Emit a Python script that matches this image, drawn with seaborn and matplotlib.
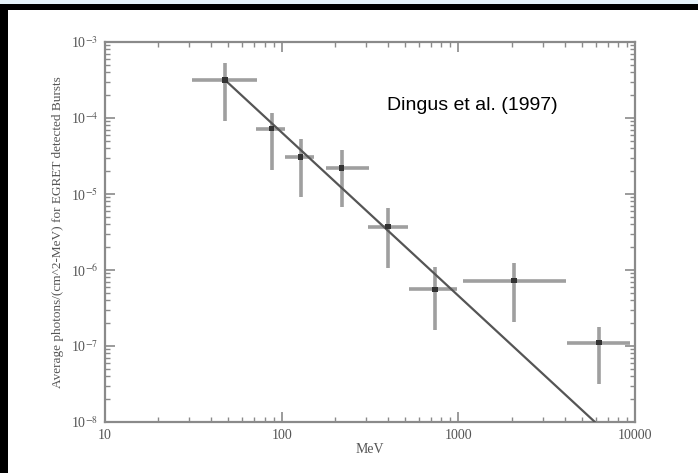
import numpy as np
import pandas as pd
import matplotlib
matplotlib.use("Agg")
import matplotlib.pyplot as plt
import seaborn as sns
from matplotlib.patches import Rectangle

# ---- data ----
energy = [47.8, 88, 128, 219, 400, 738, 2065, 6250]          # MeV
e_lo = [31, 72, 104, 178, 308, 525, 1062, 4120]
e_hi = [72.5, 104, 152, 312, 519, 982, 4065, 9350]
flux = [3.16e-4, 7.2e-5, 3.07e-5, 2.2e-5, 3.7e-6, 5.6e-7, 7.2e-7, 1.1e-7]
f_hi = [5.3e-4, 1.16e-4, 5.3e-5, 3.8e-5, 6.5e-6, 1.1e-6, 1.24e-6, 1.78e-7]
f_lo = [9.1e-5, 2.07e-5, 9.1e-6, 6.7e-6, 1.07e-6, 1.6e-7, 2.07e-7, 3.16e-8]
fit_x = [47.8, 5930]
fit_y = [3.16e-4, 1.0e-8]
x_ticks = [10, 100, 1000, 10000]
x_ticklabels = ["10", "100", "1000", "10000"]
y_ticks = [1e-8, 1e-7, 1e-6, 1e-5, 1e-4, 1e-3]
y_ticklabels = [r"10$^{-8}$", r"10$^{-7}$", r"10$^{-6}$", r"10$^{-5}$", r"10$^{-4}$", r"10$^{-3}$"]

df = pd.DataFrame({"E": energy, "F": flux})
fit = pd.DataFrame({"E": fit_x, "F": fit_y})

sns.set_style("ticks")
plt.rcParams["font.family"] = ["Liberation Serif", "DejaVu Serif"]
plt.rcParams["mathtext.fontset"] = "stix"

fig = plt.figure(figsize=(6.98, 4.73), dpi=100)
fig.patch.set_facecolor("white")
ax = fig.add_axes([105 / 698, 1 - 422 / 473, 530 / 698, 380 / 473])

frame_col = "#8a8a8a"
err_col = "#959595"

E = np.array(energy); F = np.array(flux)
xerr = [E - np.array(e_lo), np.array(e_hi) - E]
yerr = [F - np.array(f_lo), np.array(f_hi) - F]
ax.errorbar(E, F, xerr=xerr, yerr=yerr, fmt="none", ecolor=err_col,
            elinewidth=2.6, capsize=0, alpha=0.9, zorder=2)
sns.lineplot(data=fit, x="E", y="F", ax=ax, color="#555555", lw=1.6, zorder=3)
sns.scatterplot(data=df, x="E", y="F", ax=ax, marker="s", s=14, color="#333333",
                edgecolor="none", zorder=4)

ax.set_xscale("log")
ax.set_yscale("log")
ax.set_xlim(10, 10000)
ax.set_ylim(1e-8, 1e-3)
ax.set_xticks(x_ticks)
ax.set_xticklabels(x_ticklabels)
ax.set_yticks(y_ticks)
ax.set_yticklabels(y_ticklabels)

for s in ax.spines.values():
    s.set_visible(True)
    s.set_color(frame_col)
    s.set_linewidth(1.6)
ax.tick_params(which="both", direction="in", top=True, right=True,
               color=frame_col, labelcolor="#555555", labelsize=10, pad=5)
ax.tick_params(which="major", length=7, width=1.2)
ax.tick_params(which="minor", length=3.5, width=1.0)

ax.set_xlabel("MeV", fontsize=10, color="#555555", labelpad=1)
ax.set_ylabel("Average photons/(cm^2-MeV) for EGRET detected Bursts",
              fontsize=9.5, color="#555555", labelpad=5)

ax.text(387 / 698, 1 - 106 / 473, "Dingus et al. (1997)", transform=fig.transFigure,
        fontsize=14, family=["Liberation Sans", "DejaVu Sans"], color="black",
        va="center", ha="left")

# scanned-image border: light strip, black top and left bars
fig.patches.append(Rectangle((0, 1 - 4 / 473), 1, 4 / 473, transform=fig.transFigure,
                             facecolor="#e6f3fb", edgecolor="none", zorder=10))
fig.patches.append(Rectangle((0, 1 - 10 / 473), 1, 6 / 473, transform=fig.transFigure,
                             facecolor="black", edgecolor="none", zorder=10))
fig.patches.append(Rectangle((0, 0), 8 / 698, 1 - 4 / 473, transform=fig.transFigure,
                             facecolor="black", edgecolor="none", zorder=10))

fig.savefig("out.png", dpi=100)
